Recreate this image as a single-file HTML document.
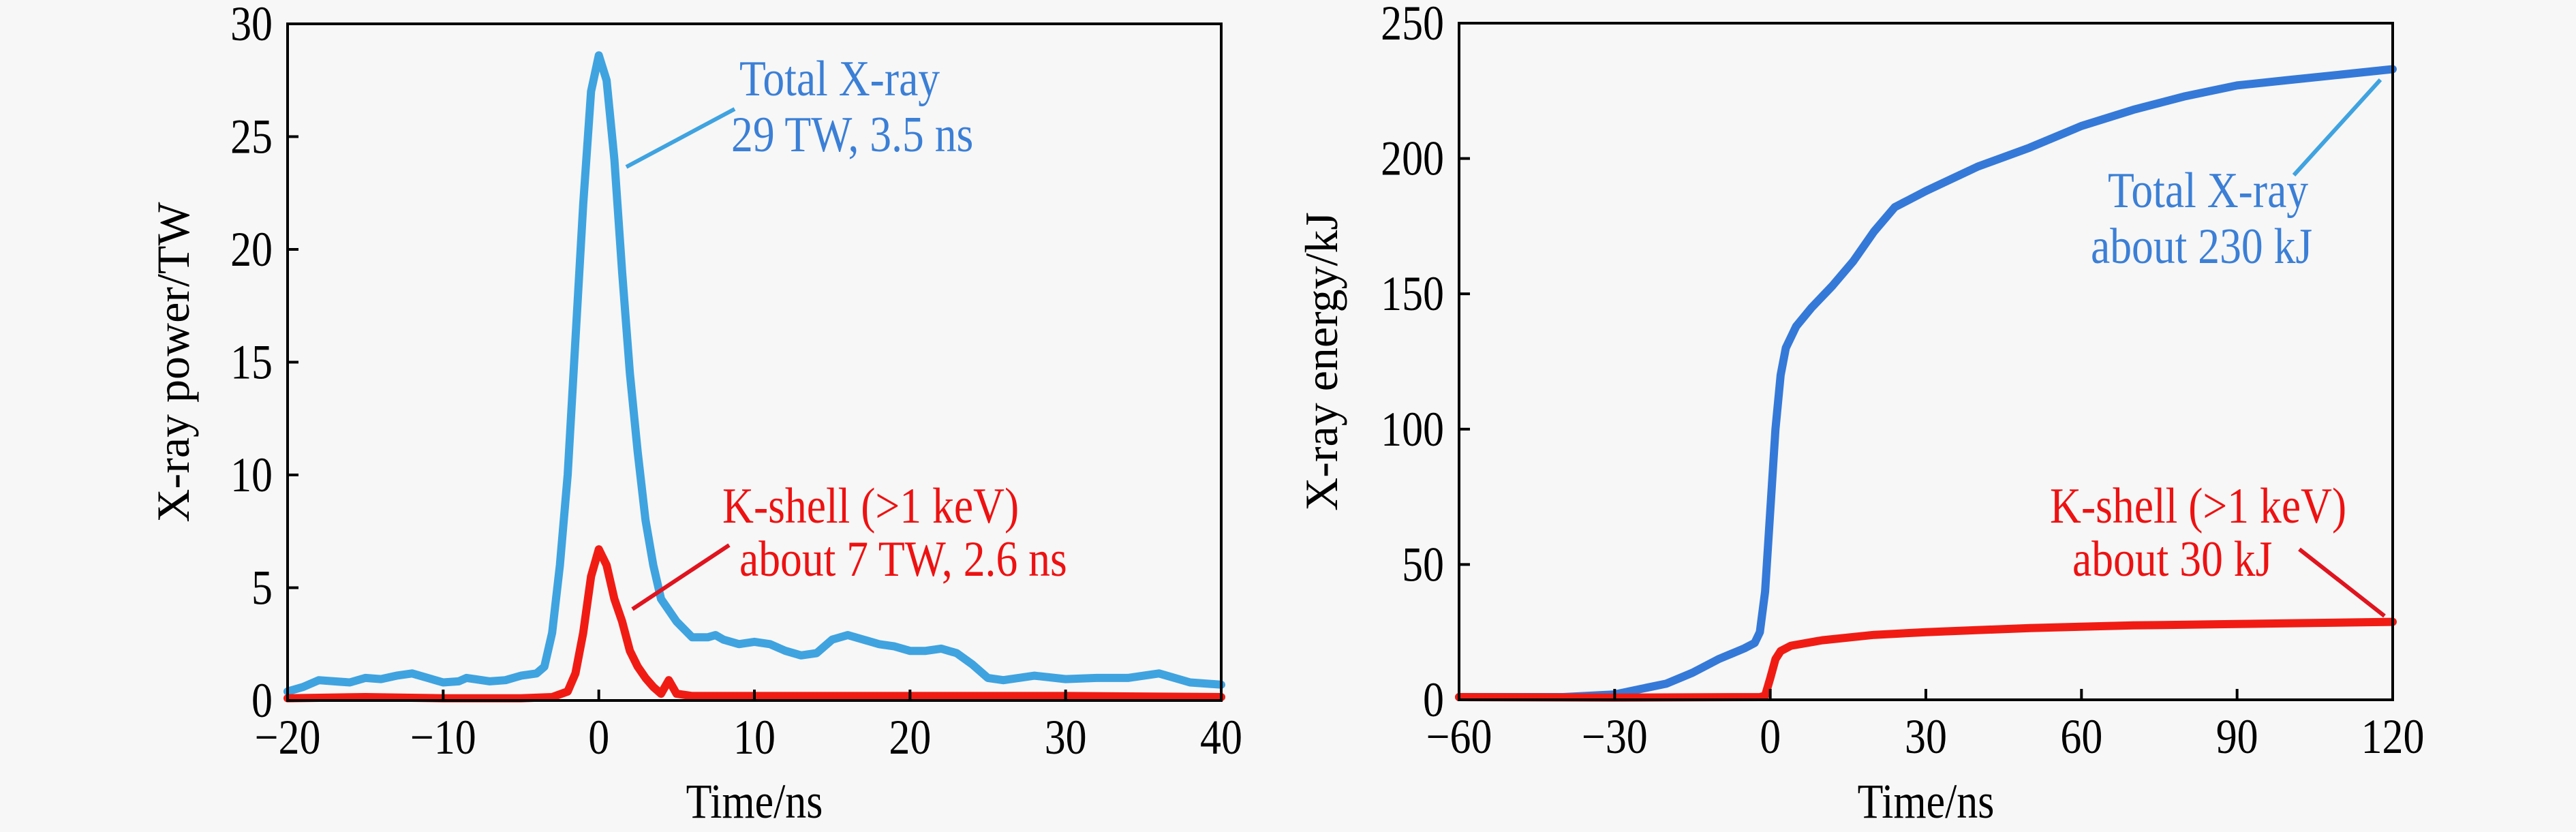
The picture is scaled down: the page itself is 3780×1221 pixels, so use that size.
<!DOCTYPE html>
<html><head><meta charset="utf-8"><style>
html,body{margin:0;padding:0;background:#f7f7f7;}
svg{display:block;font-family:"Liberation Serif",serif;}
</style></head><body>
<svg id="fig" width="3780" height="1221" viewBox="0 0 3780 1221" xmlns="http://www.w3.org/2000/svg">
<rect width="3780" height="1221" fill="#f7f7f7"/>
<g id="left"></g>
<g id="right"></g>
</svg>
<script>
// Left chart data
const powerTotalT=[-20,-19,-18,-17,-16,-15,-14,-13,-12,-11,-10,-9,-8.5,-8,-7,-6,-5,-4,-3.5,-3,-2.5,-2,-1.5,-1,-0.5,0,0.5,1,1.5,2,2.5,3,3.5,4,5,6,7,7.5,8,9,10,11,12,13,14,15,16,17,18,19,20,21,22,23,24,25,26,28,30,32,34,36,37,38,40];
const powerTotalV=[0.4,0.6,0.9,0.85,0.8,1.0,0.95,1.1,1.2,1.0,0.8,0.85,1.0,0.95,0.85,0.9,1.1,1.2,1.5,3,6,10,16,22,27,28.6,27.5,24,19,14.5,11,8,6,4.5,3.5,2.8,2.8,2.9,2.7,2.5,2.6,2.5,2.2,2.0,2.1,2.7,2.9,2.7,2.5,2.4,2.2,2.2,2.3,2.1,1.6,1.0,0.9,1.1,0.95,1.0,1.0,1.2,1.0,0.8,0.7];
const powerKT=[-20,-15,-10,-5,-3,-2,-1.5,-1,-0.5,0,0.5,1,1.5,2,2.5,3,3.5,4,4.5,5,6,10,20,30,40];
const powerKV=[0.1,0.15,0.1,0.1,0.15,0.4,1.2,3,5.5,6.7,6,4.5,3.5,2.2,1.5,1.0,0.6,0.3,0.9,0.3,0.2,0.2,0.2,0.2,0.15];
const powerXTicks=[-20,-10,0,10,20,30,40];
const powerXLabels=["\u221220","\u221210","0","10","20","30","40"];
const powerYTicks=[0,5,10,15,20,25,30];
// Right chart data
const energyTotalT=[-60,-40,-30,-25,-20,-15,-10,-5,-3,-2,-1,0,1,2,3,5,8,12,16,20,24,30,40,50,60,70,80,90,100,110,120];
const energyTotalV=[1,1,2,4,6,10,15,19,21,25,40,70,100,120,130,138,145,153,162,173,182,188,197,204,212,218,223,227,229,231,233];
const energyKT=[-60,-30,-2,-1,0,1,2,4,10,20,30,50,70,90,120];
const energyKV=[1,0.8,1,1.5,8,15,18,20,22,24,25,26.5,27.5,28,28.8];
const energyXTicks=[-60,-30,0,30,60,90,120];
const energyXLabels=["\u221260","\u221230","0","30","60","90","120"];
const energyYTicks=[0,50,100,150,200,250];

const NS="http://www.w3.org/2000/svg";
function mk(parent,tag,attrs,text){const e=document.createElementNS(NS,tag);for(const k in attrs)e.setAttribute(k,attrs[k]);if(text!==undefined)e.textContent=text;parent.appendChild(e);return e;}
function txt(parent,x,y,size,anchor,fill,s,rot){
  const tr=`translate(${x},${y})`+(rot?' rotate(-90)':'')+' scale(0.86,1)';
  return mk(parent,'text',{x:0,y:0,'font-size':size,'text-anchor':anchor,fill:fill,transform:tr},s);
}

function chart(g,cfg){
  const sx=v=>cfg.x0+(v-cfg.xmin)/(cfg.xmax-cfg.xmin)*(cfg.x1-cfg.x0);
  const sy=v=>cfg.y0-(v-cfg.ymin)/(cfg.ymax-cfg.ymin)*(cfg.y0-cfg.y1);
  cfg.series.forEach(s=>{
    const d=s.t.map((t,i)=>(i?'L':'M')+sx(t).toFixed(1)+','+sy(s.v[i]).toFixed(1)).join(' ');
    const p=mk(g,'path',{d:d,fill:'none',stroke:s.color,'stroke-width':12,'stroke-linejoin':'round','stroke-linecap':'round'});
    
    
  });
  const fr=mk(g,'rect',{x:cfg.x0,y:cfg.y1,width:cfg.x1-cfg.x0,height:cfg.y0-cfg.y1,fill:'none',stroke:'#000','stroke-width':4});
  
  
  cfg.xt.forEach((t,i)=>{
    const x=sx(t);
    const tk=mk(g,'line',{x1:x,x2:x,y1:cfg.y0,y2:cfg.y0-16,stroke:'#000','stroke-width':4});
    
    
    const lb=txt(g,x,cfg.y0+78,72,'middle','#000',cfg.xl[i]);
    
    
  });
  cfg.yt.forEach(t=>{
    const y=sy(t);
    const tk=mk(g,'line',{x1:cfg.x0,x2:cfg.x0+16,y1:y,y2:y,stroke:'#000','stroke-width':4});
    
    
    const lb=txt(g,cfg.x0-22,y+24,72,'end','#000',String(t));
    
    
  });
  const xt=txt(g,(cfg.x0+cfg.x1)/2,1200,72,'middle','#000','Time/ns');
  
  
  const yt=mk(g,'text',{x:0,y:0,'font-size':68,'text-anchor':'middle',fill:'#000',transform:`translate(${cfg.ytx},${(cfg.y0+cfg.y1)/2}) rotate(-90)`},cfg.ytitle);
  
  
  cfg.ann.forEach(a=>{
    const ln=mk(g,'line',{x1:a.l[0],y1:a.l[1],x2:a.l[2],y2:a.l[3],stroke:a.lc,'stroke-width':6});
    
    
    a.lines.forEach(tl=>{
      const t=txt(g,tl[0],tl[1],74,'start',a.tc,tl[2]);
      
      
    });
  });
}

chart(document.getElementById('left'),{x0:422,x1:1792,y0:1028,y1:35,xmin:-20,xmax:40,ymin:0,ymax:30,
  xt:powerXTicks,xl:powerXLabels,yt:powerYTicks,ytitle:'X-ray power/TW',ytx:277,
  series:[{t:powerTotalT,v:powerTotalV,color:'#3fa3e0',name:'total-xray-power-line'},{t:powerKT,v:powerKV,color:'#f01c14',name:'kshell-power-line'}],
  ann:[{l:[1078,160,919,245],lc:'#3fa3e0',tc:'#3b7fd6',lines:[[1085,140,'Total X-ray'],[1073,222,'29 TW, 3.5 ns']]},
       {l:[1070,800,928,894],lc:'#e0141e',tc:'#ee1111',lines:[[1060,767,'K-shell (>1 keV)'],[1085,845,'about 7 TW, 2.6 ns']]}]});

chart(document.getElementById('right'),{x0:2141,x1:3511,y0:1027,y1:34,xmin:-60,xmax:120,ymin:0,ymax:250,
  xt:energyXTicks,xl:energyXLabels,yt:energyYTicks,ytitle:'X-ray energy/kJ',ytx:1962,
  series:[{t:energyTotalT,v:energyTotalV,color:'#3579d8',name:'total-xray-energy-line'},{t:energyKT,v:energyKV,color:'#f01c14',name:'kshell-energy-line'}],
  ann:[{l:[3493,117,3366,257],lc:'#3fa3e0',tc:'#3b7fd6',lines:[[3093,304,'Total X-ray'],[3068,386,'about 230 kJ']]},
       {l:[3374,806,3499,904],lc:'#e0141e',tc:'#ee1111',lines:[[3008,767,'K-shell (>1 keV)'],[3041,845,'about 30 kJ']]}]});
</script>
</body></html>
